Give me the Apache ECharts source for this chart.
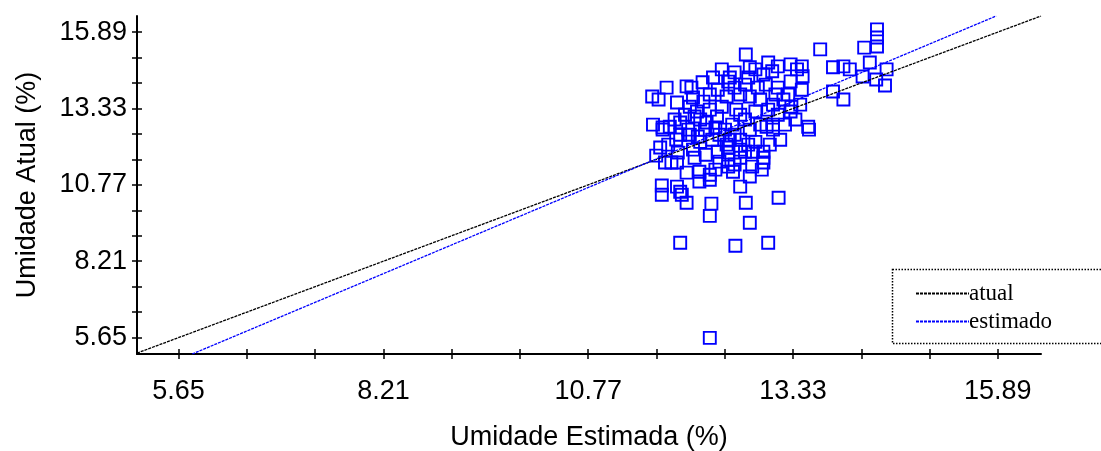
<!DOCTYPE html>
<html>
<head>
<meta charset="utf-8">
<script src="https://cdn.jsdelivr.net/npm/echarts@6/dist/echarts.min.js"></script>
<style>html,body{margin:0;padding:0;background:#fff}#c{width:1101px;height:451px}</style>
</head>
<body>
<div id="c"></div>
<script>
// Tick labels (both axes)
const majorTicks = [5.65, 8.21, 10.77, 13.33, 15.89];
// Axis ranges
const xRange = [5.13, 16.43];
const yRange = [5.10, 16.43];
// Scatter: estimated (x) vs actual (y)
const estX = [14.38,14.38,14.38,14.22,13.67,12.74,13.02,13.14,12.79,12.44,12.60,12.33,12.20,12.00,11.75,11.57,11.65,11.88,12.04,12.08,
13.38,13.44,13.45,13.30,12.96,12.99,13.14,13.27,13.31,13.08,13.02,12.79,12.67,12.50,12.44,12.62,12.38,12.25,12.10,11.79,
11.70,11.92,13.08,13.00,12.79,13.83,13.96,14.04,14.29,14.50,14.48,14.20,14.37,13.96,13.83,13.52,13.44,11.62,11.73,11.81,
11.88,11.89,12.00,12.16,12.16,12.29,12.29,12.24,12.08,12.50,12.52,12.52,12.52,12.67,12.67,12.73,12.86,12.83,12.96,12.96,
12.94,12.82,12.79,12.67,11.69,11.69,11.88,11.92,11.94,12.00,12.31,12.29,12.74,13.15,12.79,11.92,12.61,13.02,12.29,11.92,
11.70,13.53,13.08,12.14,12.04,12.48,12.57,12.41,12.36,12.23,12.17,12.32,12.54,12.60,12.73,12.67,12.86,12.92,12.89,12.73,
12.60,12.52,12.39,12.29,12.21,12.13,11.98,12.02,11.87,11.77,11.67,12.10,12.39,12.41,12.36,12.60,12.58,13.04,13.17,13.23,
13.36,13.42,13.21,13.11,12.92,12.67,12.77,13.14,13.30,13.07,12.54,12.77,12.86,13.30,12.29,12.17,12.06,11.85,11.58,12.96,12.52];
const actY = [15.98,15.71,15.41,15.37,15.31,15.14,14.87,14.74,14.71,14.64,14.54,14.37,14.21,14.07,14.03,13.73,13.63,13.53,13.39,13.70,
14.64,14.74,14.41,14.24,14.47,14.13,14.03,13.80,13.39,13.46,13.29,13.73,13.80,13.73,13.39,13.29,13.06,12.86,13.06,12.72,
12.69,12.86,12.79,12.72,12.62,14.71,14.74,14.64,14.87,14.64,14.10,14.40,14.30,13.63,13.90,12.72,13.96,11.75,11.52,11.52,
11.52,11.85,11.18,11.21,10.88,11.11,10.94,11.78,11.95,12.12,11.85,11.61,11.38,11.95,11.68,11.88,12.21,11.88,11.88,11.52,
11.28,11.38,11.05,10.71,10.75,10.44,10.71,10.54,10.44,10.17,10.14,9.73,10.17,10.34,9.50,8.83,8.73,8.83,5.64,12.45,
12.62,12.62,12.62,12.39,12.45,12.62,12.79,12.45,12.69,12.62,12.21,12.28,12.28,12.45,12.96,13.12,13.23,13.63,14.03,14.13,
14.03,14.23,13.96,13.80,13.56,13.23,13.12,12.62,12.29,12.12,12.02,11.68,11.88,11.55,11.28,11.45,11.21,12.12,12.28,12.79,
12.96,13.46,13.63,13.80,12.79,12.28,12.12,13.12,13.23,14.58,14.37,14.37,14.64,14.81,13.29,12.96,14.03,12.96,12.79,11.68,12.02];
// Reference line (atual) and fitted line (estimado), endpoints
const atualLineX = [5.13, 16.43];
const atualLineY = [5.13, 16.43];
const estLineX = [5.82, 15.87];
const estLineY = [5.10, 16.43];

const allTicks = [];
for (let i = 0; i < majorTicks.length - 1; i++) {
  const a = majorTicks[i], b = majorTicks[i + 1];
  allTicks.push(a, a + (b - a) / 3, a + 2 * (b - a) / 3);
}
allTicks.push(majorTicks[majorTicks.length - 1]);

const sans = 'Liberation Sans';
function mainAxis(range, isX) {
  return {
    type: 'value', min: range[0], max: range[1],
    position: isX ? 'bottom' : 'left',
    axisLine: { show: true, onZero: false, lineStyle: { color: '#000', width: 2 } },
    axisTick: { show: true, inside: false, length: 5, customValues: allTicks, lineStyle: { color: '#000', width: 1.5 } },
    axisLabel: { show: true, customValues: majorTicks, formatter: v => Number(v).toFixed(2),
      color: '#000', fontFamily: sans, fontSize: 27, margin: isX ? 24 : 10 },
    splitLine: { show: false },
    name: isX ? 'Umidade Estimada (%)' : 'Umidade Atual (%)',
    nameLocation: 'middle',
    nameGap: isX ? 70 : 96,
    nameTextStyle: { color: '#000', fontFamily: sans, fontSize: 27 }
  };
}
function tickAxis(range, isX) {
  return {
    type: 'value', min: range[0], max: range[1],
    position: isX ? 'bottom' : 'left',
    axisLine: { show: false, onZero: false },
    axisTick: { show: true, inside: true, length: 5, customValues: allTicks, lineStyle: { color: '#000', width: 1.5 } },
    axisLabel: { show: false },
    splitLine: { show: false }
  };
}

const chart = echarts.init(document.getElementById('c'), null, { renderer: 'canvas' });
chart.setOption({
  animation: false,
  backgroundColor: '#fff',
  grid: { left: 137, right: 60, top: 16, bottom: 97, containLabel: false, outerBoundsMode: 'none' },
  xAxis: [mainAxis(xRange, true), tickAxis(xRange, true)],
  yAxis: [mainAxis(yRange, false), tickAxis(yRange, false)],
  legend: {
    orient: 'vertical', left: 910, top: 277,
    itemWidth: 53, itemHeight: 12, itemGap: 5,
    data: ['atual', 'estimado'],
    itemStyle: { color: 'rgba(0,0,0,0)', borderWidth: 0, opacity: 0 },
    textStyle: { color: '#000', fontFamily: 'Liberation Serif', fontSize: 23, padding: [0, 0, 0, -5] }
  },
  graphic: [{
    type: 'rect', left: 890, top: 267, z: 100,
    shape: { x: 0, y: 0, width: 240, height: 74 },
    style: { fill: 'none', stroke: '#000', lineWidth: 1.5, lineDash: [1.5, 1.5] }
  }],
  series: [
    {
      type: 'scatter', name: 'pontos',
      data: estX.map((x, i) => [x, actY[i]]),
      symbol: 'rect', symbolSize: 12,
      itemStyle: { color: 'rgba(0,0,0,0)', borderColor: '#0000ff', borderWidth: 1.9, opacity: 1 },
      z: 2
    },
    {
      type: 'line', name: 'atual',
      data: atualLineX.map((x, i) => [x, atualLineY[i]]),
      symbol: 'none', lineStyle: { color: '#000', width: 1.3, type: [3, 1] },
      itemStyle: { color: '#000' }, z: 3
    },
    {
      type: 'line', name: 'estimado',
      data: estLineX.map((x, i) => [x, estLineY[i]]),
      symbol: 'none', lineStyle: { color: '#0000ff', width: 1.3, type: [3, 1] },
      itemStyle: { color: '#0000ff' }, z: 3
    }
  ]
});
</script>
</body>
</html>
